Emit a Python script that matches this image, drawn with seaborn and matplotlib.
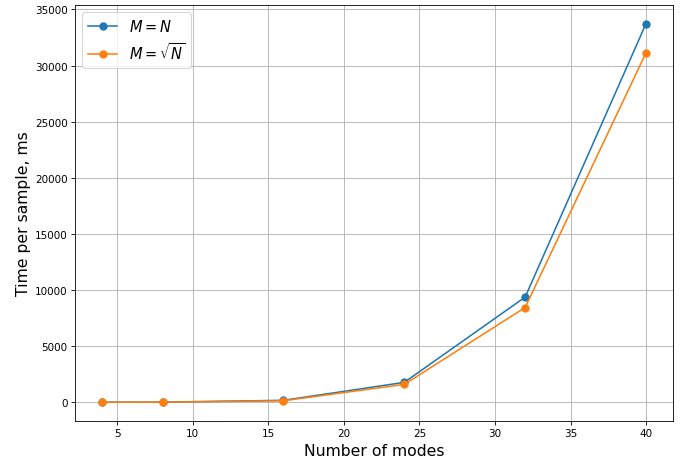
import matplotlib
matplotlib.use('Agg')
import matplotlib.pyplot as plt
import seaborn as sns
import pandas as pd

modes = [4, 8, 16, 24, 32, 40]
time_full = [10, 20, 180, 1780, 9380, 33750]
time_sqrt = [8, 15, 140, 1600, 8450, 31150]

df = pd.DataFrame({
    'modes': modes * 2,
    'time': time_full + time_sqrt,
    'case': [r'$M = N$'] * 6 + [r'$M = \sqrt{N}$'] * 6,
})

fig, ax = plt.subplots(figsize=(687 / 75, 466 / 75), dpi=75)
sns.lineplot(data=df, x='modes', y='time', hue='case', marker='o',
             markeredgewidth=0, markersize=8,
             palette=['#1f77b4', '#ff7f0e'], ax=ax)
ax.grid(True)
ax.set_xlabel('Number of modes', fontsize=15)
ax.set_ylabel('Time per sample, ms', fontsize=15)
ax.legend(title=None, fontsize=14, loc='upper left')
plt.subplots_adjust(left=0.109, right=0.98, top=0.988, bottom=0.094)
plt.savefig('out.png', dpi=75)
